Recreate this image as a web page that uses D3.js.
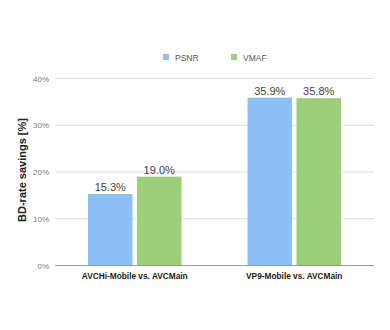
<!DOCTYPE html>
<html>
<head>
<meta charset="utf-8">
<script src="https://cdn.jsdelivr.net/npm/d3@7"></script>
<style>
  body { margin: 0; background: #fff; }
  text { font-family: "Liberation Sans", Arial, sans-serif; }
</style>
</head>
<body>
<div id="chart"></div>
<script>
  var categories = ["AVCHi-Mobile vs. AVCMain", "VP9-Mobile vs. AVCMain"];
  var seriesNames = ["PSNR", "VMAF"];
  var psnr = [15.3, 35.9];
  var vmaf = [19.0, 35.8];
  var yTicks = [0, 10, 20, 30, 40];
  var colors = ["#8bbff6", "#9bcf7a"];

  var W = 390, H = 330;
  var margin = { top: 78.5, right: 16, bottom: 64.5, left: 55 };
  var width = W - margin.left - margin.right;
  var height = H - margin.top - margin.bottom;

  var svg = d3.select("#chart").append("svg").attr("width", W).attr("height", H);
  var g = svg.append("g").attr("transform", "translate(" + margin.left + "," + margin.top + ")");

  var x0 = d3.scaleBand().domain(categories).range([0, width]).paddingInner(0).paddingOuter(0);
  var x1 = d3.scaleBand().domain(seriesNames).range([33, x0.bandwidth() - 33]).paddingInner(0.09);
  var y = d3.scaleLinear().domain([0, 40]).range([height, 0]);

  // gridlines
  g.append("g").selectAll("line").data(yTicks.filter(function(d) { return d > 0; })).enter()
    .append("line")
    .attr("x1", 0).attr("x2", width)
    .attr("y1", function(d) { return y(d); }).attr("y2", function(d) { return y(d); })
    .attr("stroke", "#dcdcdc").attr("stroke-width", 1);

  var yAxis = g.append("g").call(d3.axisLeft(y).tickValues(yTicks).tickFormat(function(d) { return d + "%"; }).tickSize(0).tickPadding(6));
  yAxis.select(".domain").remove();
  yAxis.selectAll("text").attr("fill", "#777").style("font-size", "8px");

  var data = categories.map(function(c, i) {
    return { cat: c, vals: [{ s: "PSNR", v: psnr[i] }, { s: "VMAF", v: vmaf[i] }] };
  });

  var groups = g.selectAll(".grp").data(data).enter().append("g")
    .attr("transform", function(d) { return "translate(" + x0(d.cat) + ",0)"; });

  groups.selectAll("rect").data(function(d) { return d.vals; }).enter().append("rect")
    .attr("x", function(d) { return x1(d.s); })
    .attr("width", x1.bandwidth())
    .attr("y", function(d) { return y(d.v); })
    .attr("height", function(d) { return height - y(d.v); })
    .attr("fill", function(d, i) { return colors[i]; });

  groups.selectAll(".val").data(function(d) { return d.vals; }).enter().append("text")
    .attr("x", function(d) { return x1(d.s) + x1.bandwidth() / 2; })
    .attr("y", function(d) { return y(d.v) - 3; })
    .attr("text-anchor", "middle")
    .attr("fill", "#444").style("font-size", "11px")
    .text(function(d) { return d.v.toFixed(1) + "%"; });

  // baseline
  g.append("line").attr("x1", 0).attr("x2", width).attr("y1", y(0)).attr("y2", y(0))
    .attr("stroke", "#999").attr("stroke-width", 1);

  var xAxis = g.append("g").attr("transform", "translate(0," + height + ")")
    .call(d3.axisBottom(x0).tickSize(0).tickPadding(8));
  xAxis.select(".domain").remove();
  xAxis.selectAll("text").attr("fill", "#222").style("font-size", "8.3px").style("font-weight", "bold");

  svg.append("text")
    .attr("transform", "translate(22.5," + (margin.top + height / 2 - 2) + ") rotate(-90)")
    .attr("text-anchor", "middle").attr("dy", "0.35em").attr("fill", "#222")
    .style("font-size", "11px").style("font-weight", "bold")
    .text("BD-rate savings [%]");

  // legend
  var legendX = [163, 231];
  var legend = svg.selectAll(".leg").data(seriesNames).enter().append("g")
    .attr("transform", function(d, i) { return "translate(" + legendX[i] + ",54)"; });
  legend.append("rect").attr("width", 6).attr("height", 6).attr("fill", function(d, i) { return colors[i]; });
  legend.append("text").attr("x", 12).attr("y", 6.5).attr("fill", "#555").style("font-size", "8.5px").text(function(d) { return d; });
</script>
</body>
</html>
